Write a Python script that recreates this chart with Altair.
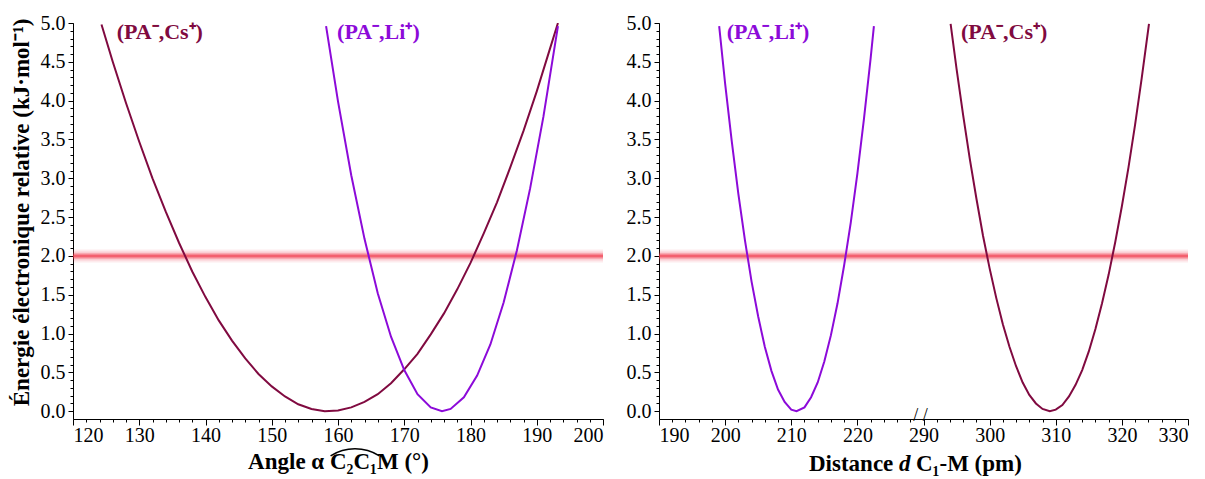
import altair as alt
import pandas as pd

FONT = "Liberation Serif"

# ---------------- data ----------------
series_names = ["(PA⁻,Cs⁺)", "(PA⁻,Li⁺)"]
line_colors = ["#800a40", "#8c0ad9"]

# left panel : angle (deg) -> relative energy (kJ/mol)
angle_cs = [124.3, 126, 128, 130, 132, 134, 136, 138, 140, 142, 144, 146, 148, 150,
            152, 154, 156, 158, 160, 162, 164, 166, 168, 170, 172, 174, 176, 178,
            180, 182, 184, 186, 188, 190, 192, 193.2]
energy_angle_cs = [4.98, 4.50, 3.97, 3.47, 3.00, 2.57, 2.17, 1.80, 1.47, 1.17, 0.91, 0.68,
                   0.48, 0.32, 0.19, 0.09, 0.03, 0.00, 0.01, 0.05, 0.12, 0.22, 0.36, 0.54,
                   0.74, 0.99, 1.26, 1.57, 1.91, 2.29, 2.69, 3.14, 3.61, 4.12, 4.67, 5.00]
angle_li = [158.2, 160, 162, 164, 166, 168, 170, 172, 174, 175.7, 177, 179, 181, 183,
            185, 187, 189, 191, 193.2]
energy_angle_li = [4.96, 3.99, 3.04, 2.22, 1.52, 0.96, 0.53, 0.22, 0.05, 0.00, 0.03, 0.18,
                   0.46, 0.86, 1.40, 2.07, 2.87, 3.79, 4.96]

# right panel : distance C1-M (pm) -> relative energy (kJ/mol)
dist_li = [199.1, 200, 201, 202, 203, 204, 205, 206, 207, 208, 209, 210, 210.8, 212, 213,
           214, 215, 216, 217, 218, 219, 220, 221, 222, 222.5]
energy_dist_li = [4.96, 4.22, 3.48, 2.80, 2.20, 1.67, 1.22, 0.83, 0.52, 0.28, 0.12, 0.02,
                  0.00, 0.05, 0.18, 0.37, 0.64, 0.98, 1.39, 1.88, 2.43, 3.06, 3.77, 4.54, 4.96]
dist_cs = [294.1, 295, 296, 297, 298, 299, 300, 301, 302, 303, 304, 305, 306, 307, 308,
           309.1, 310, 311, 312, 313, 314, 315, 316, 317, 318, 319, 320, 321, 322, 323, 324.1]
energy_dist_cs = [4.99, 4.41, 3.81, 3.25, 2.74, 2.26, 1.84, 1.46, 1.12, 0.83, 0.58, 0.37,
                  0.21, 0.10, 0.03, 0.00, 0.02, 0.08, 0.19, 0.34, 0.53, 0.77, 1.06, 1.39,
                  1.76, 2.18, 2.64, 3.14, 3.69, 4.29, 4.99]

# label anchors (data coordinates)
label_angle_x = [133.1, 166.1]
label_dist_x = [302.2, 206.5]
label_energy = 4.88

band_level = 2.0
break_low, break_high = 230, 290   # broken distance axis
angle_domain = [120, 200]
dist_domain = [190, 330]
energy_domain = [-0.1, 5.0]

y_major = [0.0, 0.5, 1.0, 1.5, 2.0, 2.5, 3.0, 3.5, 4.0, 4.5, 5.0]
angle_major = [120, 130, 140, 150, 160, 170, 180, 190, 200]

y_title = "Énergie électronique relative (kJ·mol⁻¹)"
x_title_angle = "Angle α C₂C₁M (°)"

# ---------------- tables ----------------
df_angle = pd.concat([
    pd.DataFrame({"x": angle_cs, "energy": energy_angle_cs, "series": series_names[0]}),
    pd.DataFrame({"x": angle_li, "energy": energy_angle_li, "series": series_names[1]}),
])
df_dist = pd.concat([
    pd.DataFrame({"x": dist_li, "energy": energy_dist_li, "series": series_names[1]}),
    pd.DataFrame({"x": dist_cs, "energy": energy_dist_cs, "series": series_names[0]}),
])
df_lab_angle = pd.DataFrame({"x": label_angle_x, "energy": [label_energy] * 2, "series": series_names})
df_lab_dist = pd.DataFrame({"x": label_dist_x, "energy": [label_energy] * 2, "series": series_names})
df_band = pd.DataFrame({"energy": [band_level]})
df_break = pd.DataFrame({"x": [break_high], "energy": [energy_domain[0]], "t": ["/ /"]})
df_one = pd.DataFrame({"k": [0]})

W, H = 530, 396
GAP = break_high - break_low
disp_expr = f"datum.x >= {break_high} ? datum.x - {GAP} : datum.x"

color = alt.Color("series:N", scale=alt.Scale(domain=series_names, range=line_colors), legend=None)

AX = dict(labelFont=FONT, labelFontSize=20, labelColor="black",
          titleFont=FONT, titleFontWeight="bold", titleColor="black",
          domainColor="black", domainWidth=1, tickColor="black", tickWidth=1, grid=False)

y_minor = [round(i * 0.1, 1) for i in range(51)]
y_scale = alt.Scale(domain=energy_domain, nice=False, zero=False)

Y_major = alt.Y("energy:Q", scale=y_scale,
                axis=alt.Axis(values=y_major, format=".1f", tickSize=5, labelPadding=3,
                              labelOverlap=False, title=y_title, titleFontSize=23,
                              titlePadding=7, titleAnchor="end", titleAlign="right", titleY=-5,
                              orient="left", **AX))
Y_major_nt = alt.Y("energy:Q", scale=y_scale,
                   axis=alt.Axis(values=y_major, format=".1f", tickSize=5, labelPadding=3,
                                 labelOverlap=False, title=None, orient="left", **AX))
Y_minor = alt.Y("energy:Q", scale=y_scale,
                axis=alt.Axis(values=y_minor, tickSize=3, labels=False, domain=False,
                              title=None, orient="left", **AX))
Y_none = alt.Y("energy:Q", axis=None)


def band_layers():
    out = []
    for w, o in [(13, 0.10), (9, 0.16), (6, 0.25), (3.5, 0.4), (1.6, 0.55)]:
        out.append(alt.Chart(df_band).mark_rule(color="#f03a4c", strokeWidth=w, opacity=o).encode(y=Y_none))
    return out


# ---------------- left panel ----------------
ax_scale = alt.Scale(domain=angle_domain, nice=False, zero=False)
X_angle = alt.X("x:Q", scale=ax_scale,
                axis=alt.Axis(values=angle_major, format="d", tickSize=6, labelPadding=0,
                              labelOverlap=False, title=x_title_angle, titleFontSize=23,
                              titlePadding=5, orient="bottom", **AX))
X_angle_minor = alt.X("x:Q", scale=ax_scale,
                      axis=alt.Axis(values=list(range(angle_domain[0], angle_domain[1] + 1, 2)),
                                    tickSize=3, labels=False, domain=False,
                                    title=None, orient="bottom", **AX))
X_none = alt.X("x:Q", axis=None)

left = alt.layer(
    *band_layers(),
    alt.Chart(df_angle).mark_line(strokeWidth=2, clip=True).encode(x=X_angle, y=Y_major, color=color),
    alt.Chart(df_angle).mark_point(opacity=0).encode(x=X_angle_minor, y=Y_minor),
    alt.Chart(df_lab_angle).mark_text(font=FONT, fontSize=22, fontWeight="bold").encode(
        x=X_none, y=Y_none, text="series:N", color=color),
    alt.Chart(df_one).mark_arc(innerRadius=45.0, outerRadius=46.5, theta=5.72, theta2=6.846, color="black").encode(
        x=alt.value(282), y=alt.value(471.5)),
).resolve_axis(x="independent", y="independent").properties(width=W, height=H)

# ---------------- right panel ----------------
dx_scale = alt.Scale(domain=[dist_domain[0], dist_domain[1] - GAP], nice=False, zero=False)
X_dist = alt.X("disp:Q", scale=dx_scale,
               axis=alt.Axis(values=list(range(dist_domain[0], dist_domain[1] - GAP + 1, 10)),
                             labelExpr=f"format(datum.value >= {break_low} ? datum.value + {GAP} : datum.value, 'd')",
                             tickSize=6, labelPadding=0, labelOverlap=False,
                             title=None, orient="bottom", **AX))
X_dist_minor = alt.X("disp:Q", scale=dx_scale,
                     axis=alt.Axis(values=list(range(dist_domain[0], dist_domain[1] - GAP + 1, 2)),
                                   tickSize=3, labels=False, domain=False,
                                   title=None, orient="bottom", **AX))
Xd_none = alt.X("disp:Q", axis=None)

title_y = H + 51.5
title_style = dict(font=FONT, fontWeight="bold", fontSize=23, baseline="alphabetic",
                   align="left", color="black")
right = alt.layer(
    *band_layers(),
    alt.Chart(df_dist).transform_calculate(disp=disp_expr).mark_line(strokeWidth=2, clip=True).encode(
        x=X_dist, y=Y_major_nt, color=color),
    alt.Chart(df_dist).transform_calculate(disp=disp_expr).mark_point(opacity=0).encode(
        x=X_dist_minor, y=Y_minor),
    alt.Chart(df_lab_dist).transform_calculate(disp=disp_expr).mark_text(font=FONT, fontSize=22, fontWeight="bold").encode(
        x=Xd_none, y=Y_none, text="series:N", color=color),
    alt.Chart(df_break).transform_calculate(disp=disp_expr).mark_text(
        font=FONT, fontSize=18, baseline="middle", dy=-3, dx=-3, color="black").encode(
        x=Xd_none, y=Y_none, text="t:N"),
    alt.Chart(df_one).mark_text(**title_style).encode(
        x=alt.value(150), y=alt.value(title_y), text=alt.value("Distance")),
    alt.Chart(df_one).mark_text(fontStyle="italic", **title_style).encode(
        x=alt.value(240), y=alt.value(title_y), text=alt.value("d")),
    alt.Chart(df_one).mark_text(**title_style).encode(
        x=alt.value(257), y=alt.value(title_y), text=alt.value("C₁-M (pm)")),
).resolve_axis(x="independent", y="independent").properties(width=W - 1, height=H)

chart = alt.hconcat(left, right, spacing=56, bounds="flush").properties(
    padding={"left": 1, "top": 5, "right": 0, "bottom": 0}
).configure_view(stroke=None)

chart.save("out.html", embed_options={"renderer": "svg", "actions": False})
